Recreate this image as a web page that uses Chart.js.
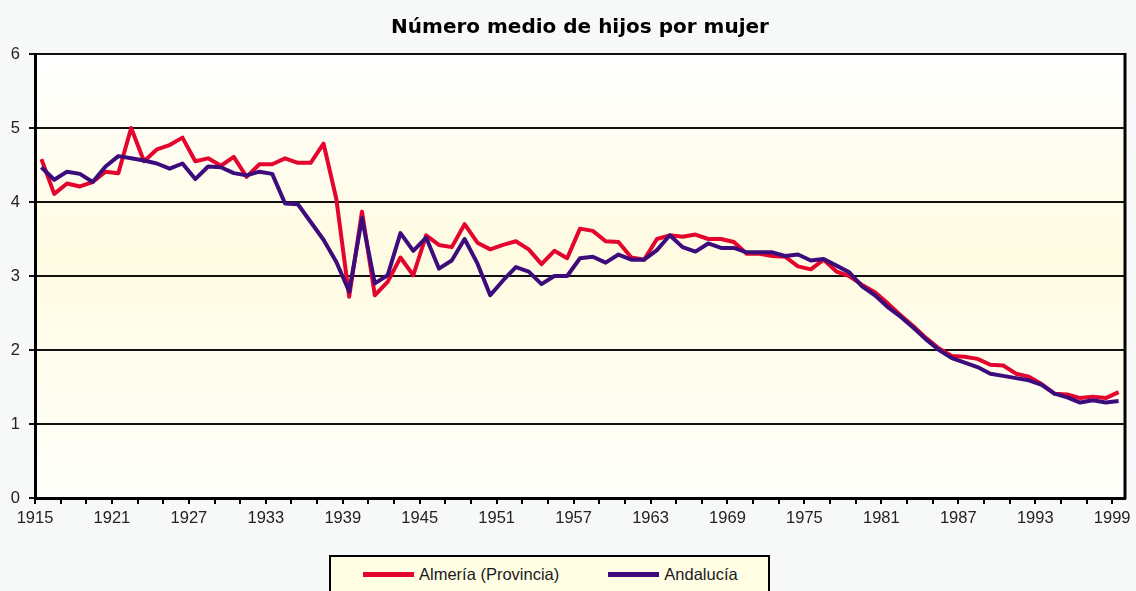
<!DOCTYPE html>
<html>
<head>
<meta charset="utf-8">
<script src="https://cdn.jsdelivr.net/npm/chart.js@4.4.1/dist/chart.umd.min.js"></script>
<style>
  body { margin: 0; background: #f7f9f9; }
  #wrap { position: relative; width: 1136px; height: 591px; overflow: hidden; }
  #leyenda {
    position: absolute; left: 329px; top: 555px; width: 441px; height: 50px;
    border: 2px solid #000; background: #fffde4;
    font: 16.5px "Liberation Sans", Arial, sans-serif; color: #1a1a1a;
    display: flex; align-items: flex-start; padding-left: 32px; box-sizing: border-box;
    padding-top: 7px; line-height: 20px; white-space: nowrap;
  }
  .item { display: flex; align-items: center; margin-right: 49px; flex-shrink: 0; }
  .swatch { width: 51px; height: 5px; margin-right: 5px; flex-shrink: 0; }
</style>
</head>
<body>
<div id="wrap">
  <canvas id="grafico" width="1136" height="591"></canvas>
  <div id="leyenda"></div>
</div>
<script>
const anos = [
  1915, 1916, 1917, 1918, 1919, 1920, 1921, 1922, 1923, 1924,
  1925, 1926, 1927, 1928, 1929, 1930, 1931, 1932, 1933, 1934,
  1935, 1936, 1937, 1938, 1939, 1940, 1941, 1942, 1943, 1944,
  1945, 1946, 1947, 1948, 1949, 1950, 1951, 1952, 1953, 1954,
  1955, 1956, 1957, 1958, 1959, 1960, 1961, 1962, 1963, 1964,
  1965, 1966, 1967, 1968, 1969, 1970, 1971, 1972, 1973, 1974,
  1975, 1976, 1977, 1978, 1979, 1980, 1981, 1982, 1983, 1984,
  1985, 1986, 1987, 1988, 1989, 1990, 1991, 1992, 1993, 1994,
  1995, 1996, 1997, 1998, 1999
];

const almeria = [
  4.58, 4.11, 4.25, 4.21, 4.27, 4.41, 4.39, 5.00, 4.55, 4.71,
  4.77, 4.87, 4.55, 4.59, 4.49, 4.61, 4.34, 4.51, 4.51, 4.59,
  4.53, 4.53, 4.79, 4.04, 2.72, 3.87, 2.74, 2.92, 3.25, 3.01,
  3.55, 3.42, 3.39, 3.70, 3.45, 3.36, 3.42, 3.47, 3.36, 3.16,
  3.34, 3.24, 3.64, 3.61, 3.47, 3.46, 3.25, 3.22, 3.50, 3.55,
  3.53, 3.56, 3.50, 3.50, 3.46, 3.30, 3.30, 3.27, 3.26, 3.13,
  3.09, 3.22, 3.06, 3.00, 2.88, 2.78, 2.63, 2.47, 2.32, 2.16,
  2.02, 1.92, 1.91, 1.88, 1.80, 1.79, 1.68, 1.64, 1.54, 1.41,
  1.40, 1.35, 1.37, 1.35, 1.43
];

const andalucia = [
  4.47, 4.30, 4.41, 4.38, 4.27, 4.48, 4.62, 4.59, 4.56, 4.52,
  4.45, 4.52, 4.31, 4.48, 4.47, 4.39, 4.36, 4.41, 4.38, 3.98,
  3.97, 3.73, 3.49, 3.19, 2.79, 3.78, 2.90, 3.01, 3.58, 3.34,
  3.52, 3.10, 3.21, 3.50, 3.17, 2.74, 2.94, 3.12, 3.06, 2.89,
  3.00, 3.00, 3.24, 3.26, 3.18, 3.29, 3.22, 3.22, 3.35, 3.55,
  3.39, 3.33, 3.44, 3.38, 3.38, 3.32, 3.32, 3.32, 3.27, 3.29,
  3.21, 3.23, 3.14, 3.05, 2.86, 2.74, 2.58, 2.45, 2.30, 2.14,
  2.00, 1.89, 1.83, 1.77, 1.68, 1.65, 1.62, 1.59, 1.53, 1.41,
  1.36, 1.29, 1.32, 1.29, 1.31
];

// ticks cada 2 años, etiqueta cada 6
const marcasX = anos.filter((a, i) => i % 2 === 0);
const etiquetasX = anos.filter((a, i) => i % 6 === 0);

const rojo = '#e3052d';
const morado = '#3d0c7c';

// los puntos van centrados en cada año (como el eje de categorías de Excel)
const puntos = serie => serie.map((v, i) => ({ x: anos[i] + 0.5, y: v }));

const fondoPlugin = {
  id: 'fondo',
  beforeDraw(chart) {
    const { ctx, chartArea: a } = chart;
    const g = ctx.createLinearGradient(0, a.top, 0, a.bottom);
    g.addColorStop(0, '#ffffff');
    g.addColorStop(0.45, '#fffbe2');
    g.addColorStop(1, '#fffffb');
    ctx.save();
    ctx.fillStyle = g;
    ctx.fillRect(a.left, a.top, a.right - a.left, a.bottom - a.top);
    ctx.restore();
  },
  afterLayout(chart) {
    // centrar el título sobre el área de trazado
    const t = chart.titleBlock;
    t.left = chart.chartArea.left;
    t.right = chart.chartArea.right;
    t.width = t.right - t.left;
  },
  afterDraw(chart) {
    const { ctx, chartArea: a } = chart;
    ctx.save();
    ctx.strokeStyle = '#000';
    ctx.lineWidth = 3;
    ctx.beginPath();
    ctx.moveTo(a.right, a.top - 1);
    ctx.lineTo(a.right, a.bottom + 1);
    ctx.stroke();
    ctx.restore();
  }
};

const ctx = document.getElementById('grafico');
const chart = new Chart(ctx, {
  type: 'line',
  data: {
    datasets: [{
      label: 'Almería (Provincia)',
      data: puntos(almeria),
      borderColor: rojo,
      backgroundColor: rojo,
      borderWidth: 4,
      pointRadius: 0,
      borderJoinStyle: 'round',
      order: 2
    },
    {
      label: 'Andalucía',
      data: puntos(andalucia),
      borderColor: morado,
      backgroundColor: morado,
      borderWidth: 4,
      pointRadius: 0,
      borderJoinStyle: 'round',
      order: 1
    }]
  },
  options: {
    responsive: false,
    animation: false,
    layout: { padding: { left: 0, right: 11, top: 0, bottom: 0 } },
    plugins: {
      legend: { display: false },
      tooltip: { enabled: false },
      title: {
        display: true,
        text: 'Número medio de hijos por mujer',
        color: '#000',
        font: { family: 'DejaVu Sans', size: 20, weight: 'bold' },
        padding: { top: 16, bottom: 14 }
      }
    },
    scales: {
      x: {
        type: 'linear',
        min: 1915,
        max: 2000,
        afterBuildTicks: s => { s.ticks = marcasX.map(v => ({ value: v })); },
        afterFit: s => { s.height = 93; },
        ticks: {
          autoSkip: false,
          maxRotation: 0,
          padding: 5,
          color: '#222',
          font: { family: 'Liberation Sans', size: 16.5 },
          callback: v => etiquetasX.includes(v) ? String(v) : ''
        },
        grid: { drawOnChartArea: false, tickLength: 6, color: '#000', lineWidth: 2 },
        border: { color: '#000', width: 3 }
      },
      y: {
        min: 0,
        max: 6,
        afterFit: s => { s.width = 35; },
        ticks: {
          stepSize: 1,
          padding: 9,
          color: '#222',
          font: { family: 'Liberation Sans', size: 16.5 }
        },
        grid: { color: '#111', lineWidth: 2, tickLength: 6 },
        border: { color: '#000', width: 3 }
      }
    }
  },
  plugins: [fondoPlugin]
});

// leyenda HTML a partir de los datasets
const leyenda = document.getElementById('leyenda');
chart.data.datasets.forEach(ds => {
  const item = document.createElement('div');
  item.className = 'item';
  const sw = document.createElement('span');
  sw.className = 'swatch';
  sw.style.background = ds.borderColor;
  const txt = document.createElement('span');
  txt.textContent = ds.label;
  item.appendChild(sw);
  item.appendChild(txt);
  leyenda.appendChild(item);
});
</script>
</body>
</html>
